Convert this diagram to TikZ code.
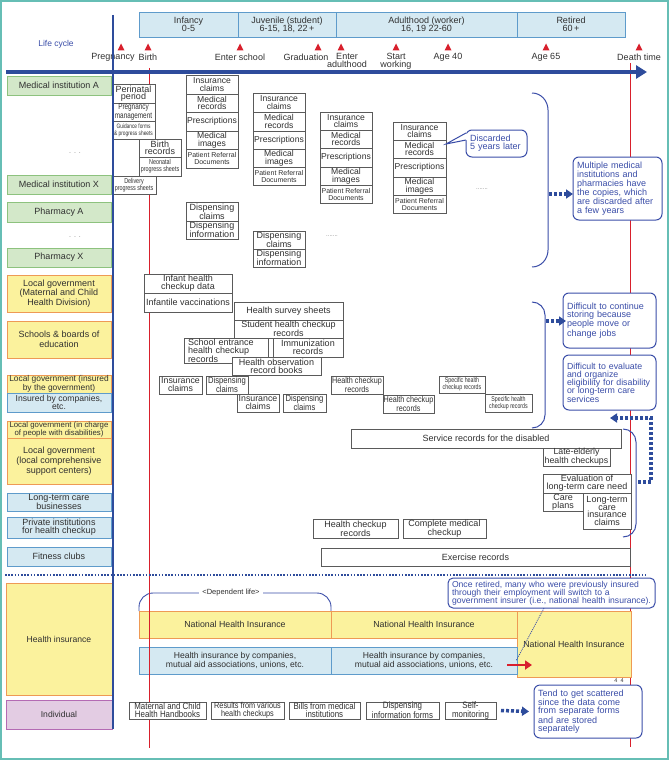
\documentclass[tikz,border=0pt]{standalone}
\usepackage{fontspec}
\setmainfont{Liberation Sans}
\newfontfamily\nar{Liberation Sans}[FakeStretch=0.75]
\newfontfamily\narB{Liberation Sans}[FakeStretch=0.85]
\usetikzlibrary{arrows.meta}
\definecolor{axblue}{HTML}{2E4C9C}
\definecolor{cblue}{HTML}{3A4DA8}
\definecolor{bfill}{HTML}{D5E9F2}
\definecolor{bline}{HTML}{5E9BCB}
\definecolor{gfill}{HTML}{D3E8C9}
\definecolor{gline}{HTML}{8DC27E}
\definecolor{yfill}{HTML}{FBF29D}
\definecolor{oline}{HTML}{EE9A55}
\definecolor{pfill}{HTML}{E3CCE3}
\definecolor{pline}{HTML}{B46BB4}
\definecolor{rred}{HTML}{D8202C}
\definecolor{rgray}{HTML}{5A5A5A}
\definecolor{tgray}{HTML}{303030}
\definecolor{framec}{HTML}{66BEB5}
\newcommand\fs[2]{\fontsize{#1}{#2}\selectfont}
\newcommand\mybx[7][rec]{\node[#1,minimum width={#4-#2},minimum height={#5-#3}] (#7) at ({(#2+#4)/2},{(#3+#5)/2}) {#6};}
\newcommand\mycb[7][callout]{\pgfmathsetmacro\cbw{#4-#2-8}\node[#1,align=left,text width=\cbw pt,inner xsep=4pt,minimum width={#4-#2},minimum height={#5-#3}] (#7) at ({(#2+#4)/2},{(#3+#5)/2}) {#6};}
\newcommand\mystack[9]{%
 \mybx[rec,font=\fs{8.6}{7.8}]{#2}{#4}{#3}{#5}{Insurance\\claims}{#1i}
 \mybx[rec,font=\fs{8.6}{7.8}]{#2}{#5}{#3}{#6}{Medical\\records}{#1m}
 \mybx[rec,font=\fs{8.6}{7.8}]{#2}{#6}{#3}{#7}{Prescriptions}{#1p}
 \mybx[rec,font=\fs{8.6}{7.8}]{#2}{#7}{#3}{#8}{Medical\\images}{#1g}
 \mybx[rec,font=\fs{7}{7}]{#2}{#8}{#3}{#9}{Patient Referral\\Documents}{#1r}}
\begin{document}
\begin{tikzpicture}[x=1pt,y=-1pt,
 base/.style={inner sep=0pt,outer sep=0pt,align=center,text=tgray,font=\fs{9}{8.3}},
 rec/.style={base,draw=rgray,fill=white,line width=0.6pt},
 lab/.style={base,line width=0.9pt,font=\fs{9}{9}},
 grn/.style={lab,draw=gline,fill=gfill},
 yel/.style={lab,draw=oline,fill=yfill},
 blu/.style={lab,draw=bline,fill=bfill},
 pur/.style={lab,draw=pline,fill=pfill},
 stage/.style={base,draw=bline,fill=bfill,line width=0.8pt,font=\fs{9}{8.3}},
 callout/.style={draw=cblue,fill=white,rounded corners=6pt,line width=1pt,text=cblue,inner ysep=0pt,outer sep=0pt,font=\fs{9}{8.3}},
 evl/.style={anchor=north,inner sep=0pt,align=center,text=tgray,font=\fs{9}{7.5}},
 dotarrow/.style={axblue,line width=3.5pt,dash pattern=on 3pt off 2pt,-{Triangle[length=7pt,width=9pt]}},
 brace/.style={cblue,line width=1pt},
 redline/.style={rred,line width=0.8pt},
 dots/.style={inner sep=0pt,text=gray,font=\fs{7}{7}}]
\useasboundingbox (0,0) rectangle (669,760);
\draw[framec,line width=1.6pt] (0.8,0.8) rectangle (668.2,759.2);
% red life lines
\coordinate (rb0) at (149,68); \coordinate (rb1) at (149,748);
\coordinate (rd0) at (630,63); \coordinate (rd1) at (630,747);
\draw[redline] (rb0) -- (rb1);
\draw[redline] (rd0) -- (rd1);
% life stages
\mybx[stage]{139}{12}{238}{37}{Infancy\\0-5}{s1}
\mybx[stage]{238}{12}{336}{37}{Juvenile (student)\\6-15, 18, 22\,+}{s2}
\mybx[stage]{336}{12}{517}{37}{Adulthood (worker)\\16, 19 22-60}{s3}
\mybx[stage]{517}{12}{625}{37}{Retired\\60\,+}{s4}
\node[inner sep=0pt,text=cblue,font=\fs{8.5}{9}] (lc) at (56,44) {Life cycle};
\foreach \x in {121,148,240,318,341,396,448,546,639}{\fill[rred] (\x-3.5,50.5) -- (\x+3.5,50.5) -- (\x,43.5) -- cycle;}
\node[evl] (lpre) at (113,53.5) {Pregnancy};
\node[evl] (lbir) at (148,53.5) {Birth};
\node[evl] (lent) at (240,53.5) {Enter school};
\node[evl] (lgrad) at (306,53.5) {Graduation};
\node[evl] (ladu) at (347,53.5) {Enter\\adulthood};
\node[evl] (lwork) at (396,53.5) {Start\\working};
\node[evl] (la40) at (448,53.5) {Age 40};
\node[evl] (la65) at (546,53.5) {Age 65};
\node[evl] (ldth) at (639,53.5) {Death time};
\coordinate (ax0) at (6,72); \coordinate (ax1) at (647,72);
\draw[axblue,line width=4pt,-{Triangle[length=11pt,width=13pt]}] (ax0) -- (ax1);
% left labels
\mybx[grn]{7}{76}{111}{95}{Medical institution A}{mA}
\node[dots] (d1) at (75,153) {.\hspace{3pt}.\hspace{3pt}.};
\mybx[grn]{7}{175}{111}{194}{Medical institution X}{mX}
\mybx[grn]{7}{202}{111}{222}{Pharmacy A}{pA}
\node[dots] (d2) at (75,237) {.\hspace{3pt}.\hspace{3pt}.};
\mybx[grn]{7}{248}{111}{267}{Pharmacy X}{pX}
\mybx[yel,font=\fs{9}{9.8}]{7}{275}{111}{312}{Local government\\(Maternal and Child\\Health Division)}{lgM}
\mybx[yel,font=\fs{9}{9.8}]{7}{321}{111}{358}{Schools \& boards of\\education}{sch}
\mybx[yel,font=\fs{8.4}{7.3}]{7}{375}{111}{393}{Local government (insured\\by the government)}{lgI}
\mybx[blu,font=\fs{8.6}{7.5}]{7}{393}{111}{412}{Insured by companies,\\etc.}{insC}
\mybx[yel,font=\fs{7.8}{7}]{7}{421}{111}{438}{Local government (in charge\\of people with disabilities)}{lgD}
\mybx[yel,font=\fs{9}{9.8}]{7}{438}{111}{484}{Local government\\(local comprehensive\\support centers)}{lgS}
\mybx[blu,font=\fs{9}{7.8}]{7}{493}{111}{511}{Long-term care\\businesses}{ltc}
\mybx[blu,font=\fs{9}{8}]{7}{517}{111}{538}{Private institutions\\for health checkup}{priv}
\mybx[blu]{7}{547}{111}{566}{Fitness clubs}{fit}
% perinatal records
\mybx[rec,font=\fs{9}{7.5}]{112}{84}{155}{103}{Perinatal\\period}{peri}
\mybx[rec,font=\nar\fs{8.5}{7}]{112}{103}{155}{121}{Pregnancy\\management}{preg}
\mybx[rec,font=\nar\fs{6.4}{6.8}]{112}{121}{155}{139}{Guidance forms\\\& progress sheets}{guid}
\mybx[rec,font=\fs{9}{7.5}]{139}{139}{181}{157}{Birth\\records}{birth}
\mybx[rec,font=\nar\fs{7.2}{6.8}]{139}{157}{181}{176}{Neonatal\\progress sheets}{neo}
\mybx[rec,font=\nar\fs{7.2}{6.8}]{112}{176}{156}{194}{Delivery\\progress sheets}{deliv}
% medical stacks
\mystack{sa}{186}{238}{75}{94}{112}{131}{149}{168}
\mystack{sb}{253}{305}{93}{112}{131}{149}{167}{185}
\mystack{sc}{320}{372}{112}{130}{148}{167}{185}{203}
\mystack{sd}{393}{446}{122}{140}{158}{177}{195}{213}
\mybx[rec,font=\fs{9}{8}]{186}{202}{238}{221}{Dispensing\\claims}{dca}
\mybx[rec,font=\fs{9}{8}]{186}{221}{238}{239}{Dispensing\\information}{dia}
\mybx[rec,font=\fs{9}{8}]{253}{231}{305}{249}{Dispensing\\claims}{dcb}
\mybx[rec,font=\fs{9}{8}]{253}{249}{305}{267}{Dispensing\\information}{dib}
\node[dots,font=\fs{6}{6}] (d3) at (332,236) {.......};
\node[dots,font=\fs{6}{6}] (d4) at (482,189) {.......};
% discarded callout
\mycb{466}{130}{527}{157}{Discarded\\5 years later}{disc}
\fill[white] ([xshift=1.5pt,yshift=10.5pt]disc.west) -- ([yshift=5pt]sdm.east) -- ([xshift=1.5pt,yshift=3.5pt]disc.west) -- cycle;
\draw[cblue,line width=1pt] ([yshift=10.5pt]disc.west) -- ([yshift=5pt]sdm.east) -- ([yshift=3.5pt]disc.west);
% brace 1
\draw[brace] (532,93) to[out=0,in=90] (548,110) -- (548,250) to[out=-90,in=0] (532,267);
\mycb{573}{157}{662}{220}{Multiple medical\\institutions and\\pharmacies have\\the copies, which\\are discarded after\\a few years}{mult}
\coordinate (b1) at (549,194);
\draw[dotarrow] (b1) -- (b1 -| mult.west);
% middle records
\mybx[rec]{144}{274}{232}{293}{Infant health\\checkup data}{ihc}
\mybx[rec]{144}{293}{232}{312}{Infantile vaccinations}{ivac}
\mybx[rec]{234}{302}{343}{320}{Health survey sheets}{hss}
\mybx[rec,font=\fs{9}{8}]{234}{320}{343}{338}{Student health checkup\\records}{shc}
\mycb[rec,font=\fs{9}{8}]{184}{338}{268}{363}{School entrance\\health checkup\\records}{sehc}
\mybx[rec,font=\fs{9}{8}]{273}{338}{343}{357}{Immunization\\records}{imm}
\mybx[rec,font=\fs{9}{8}]{232}{357}{321}{375}{Health observation\\record books}{hob}
\mybx[rec,font=\fs{8.8}{8}]{159}{376}{202}{394}{Insurance\\claims}{ica}
\mybx[rec,font=\narB\fs{9}{8}]{206}{376}{248}{394}{Dispensing\\claims}{dcc}
\mybx[rec,font=\fs{8.8}{8}]{237}{394}{279}{412}{Insurance\\claims}{icb}
\mybx[rec,font=\narB\fs{9}{8}]{283}{394}{326}{412}{Dispensing\\claims}{dcd}
\mybx[rec,font=\narB\fs{8.5}{7.8}]{331}{376}{383}{394}{Health checkup\\records}{hcra}
\mybx[rec,font=\narB\fs{8.5}{7.8}]{383}{395}{434}{413}{Health checkup\\records}{hcrb}
\mybx[rec,font=\nar\fs{7}{7}]{439}{376}{485}{393}{Specific health\\checkup records}{shra}
\mybx[rec,font=\nar\fs{7}{7}]{485}{394}{532}{412}{Specific health\\checkup records}{shrb}
% brace 2
\draw[brace] (532,302) to[out=0,in=90] (545,315) -- (545,415) to[out=-90,in=0] (532,428);
\mycb{563}{293}{656}{348}{Difficult to continue\\storing because\\people move or\\change jobs}{diffa}
\mycb[callout,font=\fs{8.8}{8.3}]{563}{355}{656}{410}{Difficult to evaluate\\and organize\\eligibility for disability\\or long-term care\\services}{diffb}
\coordinate (b2) at (546,321);
\draw[dotarrow] (b2) -- ([xshift=3pt]b2 -| diffa.west);
% lower records
\mybx[rec]{351}{429}{621}{448}{Service records for the disabled}{srd}
\mybx[rec,font=\fs{8.8}{8}]{543}{448}{610}{466}{Late-elderly\\health checkups}{leh}
\mybx[rec,font=\fs{9}{8}]{543}{474}{631}{493}{Evaluation of\\long-term care need}{eval}
\mybx[rec,font=\fs{9}{8}]{543}{493}{583}{511}{Care\\plans}{care}
\mybx[rec,font=\fs{9}{7.8}]{583}{493}{631}{529}{Long-term\\care\\insurance\\claims}{ltci}
\mybx[rec,font=\fs{9}{8}]{313}{519}{398}{538}{Health checkup\\records}{hcrc}
\mybx[rec,font=\fs{9}{8}]{403}{519}{486}{538}{Complete medical\\checkup}{cmc}
\mybx[rec]{321}{548}{630}{566}{Exercise records}{exr}
% brace 3
\draw[brace] (623,429) to[out=0,in=90] (636,442) -- (636,524) to[out=-90,in=0] (623,537);
\coordinate (b3) at (638,482); \coordinate (b3t) at (610,418);
\draw[dotarrow] (b3) -- ++(13,0) |- (b3t);
% separator
\coordinate (sp0) at (5,575); \coordinate (sp1) at (646,575);
\draw[axblue,line width=1.6pt,dash pattern=on 1.6pt off 1.6pt] (sp0) -- (sp1);
% health insurance
\mybx[yel,font=\fs{8.6}{9}]{6}{583}{112}{695}{Health insurance}{hi}
\draw[cblue,line width=0.9pt,rounded corners=14pt] (139,611) -- (139,593) -- (331,593) -- (331,611);
\node[fill=white,inner xsep=3pt,inner ysep=1pt,text=tgray,font=\fs{7.5}{8}] (dep) at (231,593) {<Dependent life>};
\mybx[yel,line width=0.8pt,font=\fs{8.8}{9}]{139}{611}{331}{638}{National Health Insurance}{nhia}
\mybx[yel,line width=0.8pt,font=\fs{8.8}{9}]{331}{611}{517}{638}{National Health Insurance}{nhib}
\mybx[yel,line width=0.8pt,font=\fs{8.8}{9}]{517}{611}{631}{677}{National Health Insurance}{nhic}
\mybx[blu,line width=0.8pt,font=\fs{8.6}{9}]{139}{647}{331}{674}{Health insurance by companies,\\mutual aid associations, unions, etc.}{hica}
\mybx[blu,line width=0.8pt,font=\fs{8.6}{9}]{331}{647}{517}{674}{Health insurance by companies,\\mutual aid associations, unions, etc.}{hicb}
\coordinate (rb2) at (149,577); \coordinate (rb3) at (149,697);
\draw[redline] (rb2) -- (rb3);
\coordinate (ra0) at (507,665); \coordinate (ra1) at (532,665);
\draw[rred,line width=2.5pt,-{Triangle[length=7pt,width=9pt]}] (ra0) -- (ra1);
\mycb[callout,rounded corners=5pt,font=\fs{8.6}{8.2}]{448}{578}{655}{608}{Once retired, many who were previously insured\\through their employment will switch to a\\government insurer (i.e., national health insurance).}{ret}
\coordinate (retp) at (516,661);
\draw[cblue,line width=0.8pt,dash pattern=on 1pt off 1pt] ([xshift=-7.5pt]ret.south) -- (retp);
\node[inner sep=0pt,text=tgray,font=\fs{5.5}{6}] (pgn) at (619,681) {4\hspace{3pt}4};
% individual
\mybx[pur,font=\fs{8.6}{9}]{6}{700}{112}{729}{Individual}{ind}
\mybx[rec,font=\narB\fs{9.3}{8.3}]{129}{702}{206}{719}{Maternal and Child\\Health Handbooks}{mch}
\mybx[rec,font=\narB\fs{8.6}{8.3}]{211}{702}{284}{719}{Results from various\\health checkups}{res}
\mybx[rec,font=\narB\fs{9.3}{8.3}]{289}{702}{360}{719}{Bills from medical\\institutions}{bill}
\mybx[rec,font=\narB\fs{9.3}{8.3}]{366}{702}{439}{719}{Dispensing\\information forms}{dif}
\mybx[rec,font=\narB\fs{9.3}{8.3}]{445}{702}{496}{719}{Self-\\monitoring}{selfm}
\mycb{534}{685}{642}{738}{Tend to get scattered\\since the data come\\from separate forms\\and are stored\\separately}{tend}
\draw[dotarrow] ([xshift=5pt]selfm.east) -- ([xshift=-5pt]tend.west);
% vertical axis
\coordinate (va0) at (113,15); \coordinate (va1) at (113,729);
\draw[axblue,line width=1.8pt] (va0) -- (va1);
\end{tikzpicture}
\end{document}
